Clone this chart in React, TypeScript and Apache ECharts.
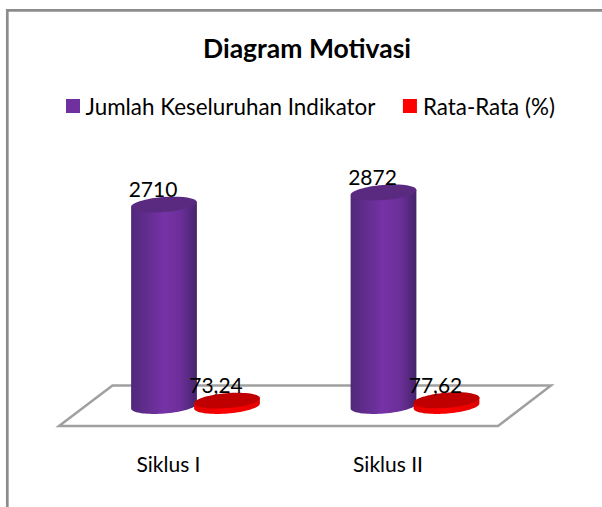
import React, { useEffect, useRef } from "react";
import * as echarts from "echarts";

const categories = ["Siklus I", "Siklus II"];
const seriesNames = ["Jumlah Keseluruhan Indikator", "Rata-Rata (%)"];
const jumlah = [2710, 2872];
const rataRata = [73.24, 77.62];
const labelsJumlah = ["2710", "2872"];
const labelsRata = ["73,24", "77,62"];
const FONT = "Lato";

const TILT = 0.08;
const RX = 33;
const RY = 7.5;

function cylinder(sideStops: any[], topColor: string, offset: number, labels: string[]) {
  return (params: any, api: any) => {
    const idx = api.value(0);
    const base = api.coord([idx, 0]);
    const top = api.coord([idx, api.value(1)]);
    const cx = base[0] + offset;
    const pts: number[][] = [];
    for (let i = 0; i <= 40; i++) {
      const t = Math.PI - (Math.PI * i) / 40;
      const ex = RX * Math.cos(t);
      const ey = RY * Math.sin(t);
      pts.push([
        cx + ex * Math.cos(TILT) + ey * Math.sin(TILT),
        base[1] + ey * Math.cos(TILT) - ex * Math.sin(TILT),
      ]);
    }
    const dx = RX * Math.cos(TILT);
    const dy = RX * Math.sin(TILT);
    pts.push([cx + dx, top[1] - dy]);
    pts.push([cx - dx, top[1] + dy]);
    return {
      type: "group",
      children: [
        {
          type: "polygon",
          shape: { points: pts },
          style: {
            fill: new echarts.graphic.LinearGradient(0, 0, 1, 0, sideStops),
          },
        },
        {
          type: "ellipse",
          shape: { cx, cy: top[1], rx: RX, ry: RY },
          rotation: TILT,
          originX: cx,
          originY: top[1],
          style: { fill: topColor },
        },
        {
          type: "text",
          x: cx - 11,
          y: top[1] - 16,
          style: {
            text: labels[idx],
            fontFamily: FONT,
            fontSize: 21,
            fill: "#000",
            align: "center",
            verticalAlign: "middle",
          },
        },
      ],
    };
  };
}

export default function App() {
  const ref = useRef<HTMLDivElement>(null);
  useEffect(() => {
    document.body.style.margin = "0";
    const chart = echarts.init(ref.current!, null, { renderer: "svg" });
    chart.setOption({
      animation: false,
      backgroundColor: "#fff",
      title: {
        text: "Diagram Motivasi",
        left: 302,
        top: 29,
        textAlign: "center",
        textStyle: { fontFamily: FONT, fontSize: 26.5, fontWeight: "bold", color: "#000" },
      },
      legend: {
        left: 66,
        top: 95,
        padding: 0,
        itemWidth: 14,
        itemHeight: 14,
        itemGap: 27.5,
        icon: "rect",
        textStyle: { fontFamily: FONT, fontSize: 22.4, color: "#000" },
        data: [
          {
            name: seriesNames[0],
            itemStyle: { color: "#7030a0" },
            textStyle: { padding: [0, 0, 0, 0.5] },
          },
          {
            name: seriesNames[1],
            itemStyle: { color: "#ff0000" },
            textStyle: { padding: [0, 0, 0, 1] },
          },
        ],
      },
      grid: { left: 85.75, right: 77.25, top: 183, bottom: 101 },
      xAxis: {
        type: "category",
        data: categories,
        axisLine: { show: false },
        axisTick: { show: false },
        axisLabel: {
          margin: 47,
          padding: [0, 54, 0, 0],
          fontFamily: FONT,
          fontSize: 21,
          color: "#000",
        },
      },
      yAxis: { type: "value", min: 0, max: 3000, show: false },
      graphic: [
        {
          type: "rect",
          shape: { x: 7.3, y: 10.3, width: 800, height: 800 },
          style: { fill: "#fff", stroke: "#8c8c8c", lineWidth: 2.7 },
          silent: true,
        },
        {
          type: "polygon",
          shape: { points: [[59, 426], [112.5, 385.5], [551, 385.5], [498, 426]] },
          style: { fill: "#fff", stroke: "#a0a0a0", lineWidth: 2.5 },
          silent: true,
        },
      ],
      series: [
        {
          name: seriesNames[0],
          type: "custom",
          data: jumlah.map((v, i) => [i, v]),
          encode: { x: 0, y: 1 },
          itemStyle: { color: "#7030a0" },
          renderItem: cylinder(
            [
              { offset: 0, color: "#50287a" },
              { offset: 0.5, color: "#7632a6" },
              { offset: 0.75, color: "#6c2f9a" },
              { offset: 1, color: "#45246a" },
            ],
            "#5a2a80",
            -31.5,
            labelsJumlah
          ),
          z: 3,
        },
        {
          name: seriesNames[1],
          type: "custom",
          data: rataRata.map((v, i) => [i, v]),
          encode: { x: 0, y: 1 },
          itemStyle: { color: "#ff0000" },
          renderItem: cylinder(
            [
              { offset: 0, color: "#e00000" },
              { offset: 0.5, color: "#ff0000" },
              { offset: 1, color: "#e00000" },
            ],
            "#c00000",
            31.5,
            labelsRata
          ),
          z: 4,
        },
      ],
    });
    return () => chart.dispose();
  }, []);
  return (
    <div
      ref={ref}
      style={{ position: "absolute", left: 0, top: 0, width: 602, height: 507 }}
    />
  );
}
